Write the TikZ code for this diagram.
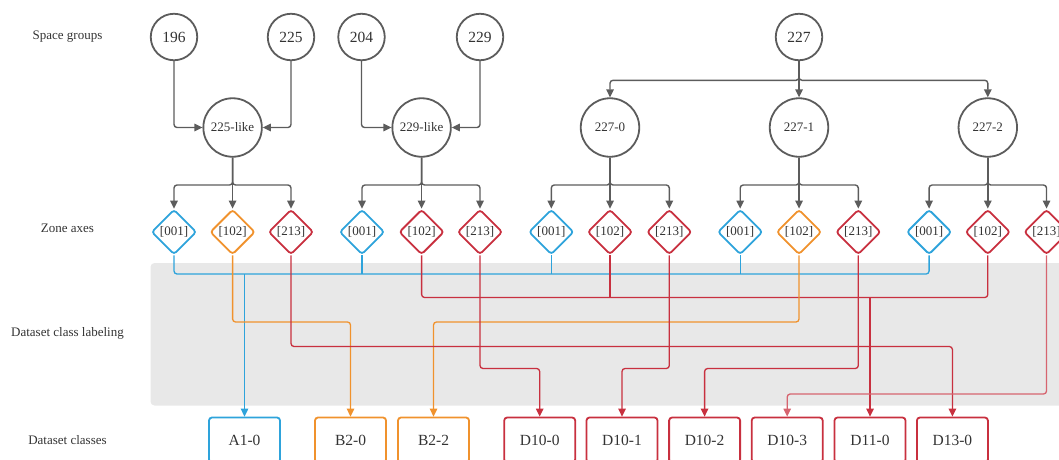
\documentclass[tikz,border=0pt]{standalone}
\usepackage{fontspec}
\setmainfont{Liberation Serif}
\usetikzlibrary{arrows.meta,shapes.geometric,calc}
\definecolor{linkgray}{HTML}{5C5C5C}
\definecolor{axisblue}{HTML}{2EA3DB}
\definecolor{axisorange}{HTML}{F0922D}
\definecolor{axisred}{HTML}{C8303F}
\definecolor{zonegray}{HTML}{E8E8E8}
\definecolor{textgray}{HTML}{333333}

\begin{document}
\begin{tikzpicture}[
    x=1pt, y=-1pt,
    >={Triangle[length=8pt,width=7.5pt]},
    rowlabel/.style={font=\fontsize{13}{15}\selectfont, text=textgray},
    sgroup/.style={draw=linkgray, circle, line width=1.8pt, minimum size=46.5pt, inner sep=0pt, font=\fontsize{15.5}{17}\selectfont, text=textgray},
    subgroup/.style={sgroup, minimum size=58.5pt, font=\fontsize{13}{15}\selectfont},
    axis/.style={diamond, draw, line width=1.8pt, minimum size=45pt, aspect=1, inner sep=0pt, rounded corners=3pt, font=\fontsize{13}{15}\selectfont, text=textgray},
    dclass/.style={draw, rectangle, line width=1.8pt, rounded corners=3pt, minimum width=71pt, minimum height=45pt, font=\fontsize{15.5}{17}\selectfont, text=textgray},
    arrow/.style={->, line width=1.4pt, linkgray, rounded corners=3pt},
    link/.style={line width=1.3pt, rounded corners=3pt}
]
\useasboundingbox (0,0) rectangle (1059,459);
\clip (0,0) rectangle (1059,459);

% ---- Labeling zone ----
\fill[zonegray, rounded corners=4pt] (150.5,263) rectangle (1070,405.5);

% ---- Row labels ----
\node[rowlabel] (lblsg) at (67.5,37) {Space groups};
\node[rowlabel] (lblza) at (67.5,228) {Zone axes};
\node[rowlabel] (lbldl) at (67.5,333) {Dataset class labeling};
\node[rowlabel] (lbldc) at (67.5,440) {Dataset classes};

% ---- Space groups ----
\node[sgroup] (sg196) at (174,37) {196};
\node[sgroup] (sg225) at (291,37) {225};
\node[sgroup] (sg204) at (361.5,37) {204};
\node[sgroup] (sg229) at (480,37) {229};
\node[sgroup] (sg227) at (799,37) {227};

% ---- Merged / split groups ----
\node[subgroup] (like225) at (232.6,127.5) {225-like};
\node[subgroup] (like229) at (421.6,127.5) {229-like};
\node[subgroup] (sub0) at (610,127.5) {227-0};
\node[subgroup] (sub1) at (799,127.5) {227-1};
\node[subgroup] (sub2) at (987.8,127.5) {227-2};

% ---- Zone axes ----
\node[axis, draw=axisblue] (zA001) at (174,232) {[001]};
\node[axis, draw=axisorange] (zA102) at (232.6,232) {[102]};
\node[axis, draw=axisred] (zA213) at (291,232) {[213]};
\node[axis, draw=axisblue] (zB001) at (362,232) {[001]};
\node[axis, draw=axisred] (zB102) at (421.6,232) {[102]};
\node[axis, draw=axisred] (zB213) at (480,232) {[213]};
\node[axis, draw=axisblue] (zC001) at (551.3,232) {[001]};
\node[axis, draw=axisred] (zC102) at (610,232) {[102]};
\node[axis, draw=axisred] (zC213) at (669.3,232) {[213]};
\node[axis, draw=axisblue] (zD001) at (740.2,232) {[001]};
\node[axis, draw=axisorange] (zD102) at (799,232) {[102]};
\node[axis, draw=axisred] (zD213) at (858.3,232) {[213]};
\node[axis, draw=axisblue] (zE001) at (929.1,232) {[001]};
\node[axis, draw=axisred] (zE102) at (987.8,232) {[102]};
\node[axis, draw=axisred] (zE213) at (1046.5,232) {[213]};

% ---- Dataset classes ----
\node[dclass, draw=axisblue] (cA10) at (244.5,440) {A1-0};
\node[dclass, draw=axisorange] (cB20) at (350.5,440) {B2-0};
\node[dclass, draw=axisorange] (cB22) at (433.5,440) {B2-2};
\node[dclass, draw=axisred] (cD100) at (539.7,440) {D10-0};
\node[dclass, draw=axisred] (cD101) at (622,440) {D10-1};
\node[dclass, draw=axisred] (cD102) at (704.6,440) {D10-2};
\node[dclass, draw=axisred] (cD103) at (787.2,440) {D10-3};
\node[dclass, draw=axisred] (cD110) at (870,440) {D11-0};
\node[dclass, draw=axisred] (cD130) at (952.4,440) {D13-0};

% ---- Space groups -> groups ----
\draw[arrow] (sg196) |- (like225);
\draw[arrow] (sg225) |- (like225);
\draw[arrow] (sg204) |- (like229);
\draw[arrow] (sg229) |- (like229);

\coordinate (split227) at (799,80.3);
\draw[arrow] (sg227) -- (sub1);
\draw[arrow] (sg227.south) -- (split227) -| (sub0);
\draw[arrow] (sg227.south) -- (split227) -| (sub2);

% ---- Groups -> zone axes ----
\coordinate (splitA) at (232.6,185);
\coordinate (splitB) at (421.6,185);
\coordinate (splitC) at (610,185);
\coordinate (splitD) at (799,185);
\coordinate (splitE) at (987.8,185);
\draw[arrow] (like225) -- (zA102);
\draw[arrow] (like225.south) -- (splitA) -| (zA001);
\draw[arrow] (like225.south) -- (splitA) -| (zA213);
\draw[arrow] (like229) -- (zB102);
\draw[arrow] (like229.south) -- (splitB) -| (zB001);
\draw[arrow] (like229.south) -- (splitB) -| (zB213);
\draw[arrow] (sub0) -- (zC102);
\draw[arrow] (sub0.south) -- (splitC) -| (zC001);
\draw[arrow] (sub0.south) -- (splitC) -| (zC213);
\draw[arrow] (sub1) -- (zD102);
\draw[arrow] (sub1.south) -- (splitD) -| (zD001);
\draw[arrow] (sub1.south) -- (splitD) -| (zD213);
\draw[arrow] (sub2) -- (zE102);
\draw[arrow] (sub2.south) -- (splitE) -| (zE001);
\draw[arrow] (sub2.south) -- (splitE) -| (zE213);

% ---- Label routing levels ----
\coordinate (lvblue) at (0,274);
\coordinate (lvnorm) at (0,297.5);
\coordinate (lvorange) at (0,322);
\coordinate (lvlong) at (0,346.5);
\coordinate (lvmid) at (0,368.5);
\coordinate (lvlow) at (0,394);

% [001] -> A1-0
\draw[link, axisblue] (zA001.south) |- (zE001 |- lvblue) -- (zE001.south);
\draw[link, axisblue] (zB001.south) -- (zB001 |- lvblue);
\draw[link, axisblue] (zC001.south) -- (zC001 |- lvblue);
\draw[link, axisblue] (zD001.south) -- (zD001 |- lvblue);
\draw[link, axisblue, ->] (cA10 |- lvblue) -- (cA10);

% red [102] -> D11-0
\draw[link, axisred] (zB102.south) |- (zE102 |- lvnorm) -- (zE102.south);
\draw[link, axisred] (zC102.south) -- (zC102 |- lvnorm);
\draw[link, axisred, ->] (cD110 |- lvnorm) -- (cD110);

% orange [102] -> B2-x
\draw[link, axisorange, ->] (zA102.south) |- (cB20 |- lvorange) -- (cB20);
\draw[link, axisorange, ->] (zD102.south) |- (cB22 |- lvorange) -- (cB22);

% [213] -> D classes
\draw[link, axisred, ->] (zA213.south) |- (cD130 |- lvlong) -- (cD130);
\draw[link, axisred, ->] (zB213.south) |- (cD100 |- lvmid) -- (cD100);
\draw[link, axisred, ->] (zC213.south) |- (cD101 |- lvmid) -- (cD101);
\draw[link, axisred, ->] (zD213.south) |- (cD102 |- lvmid) -- (cD102);
\draw[link, axisred!75, ->] (zE213.south) |- (cD103 |- lvlow) -- (cD103);

\end{tikzpicture}
\end{document}
